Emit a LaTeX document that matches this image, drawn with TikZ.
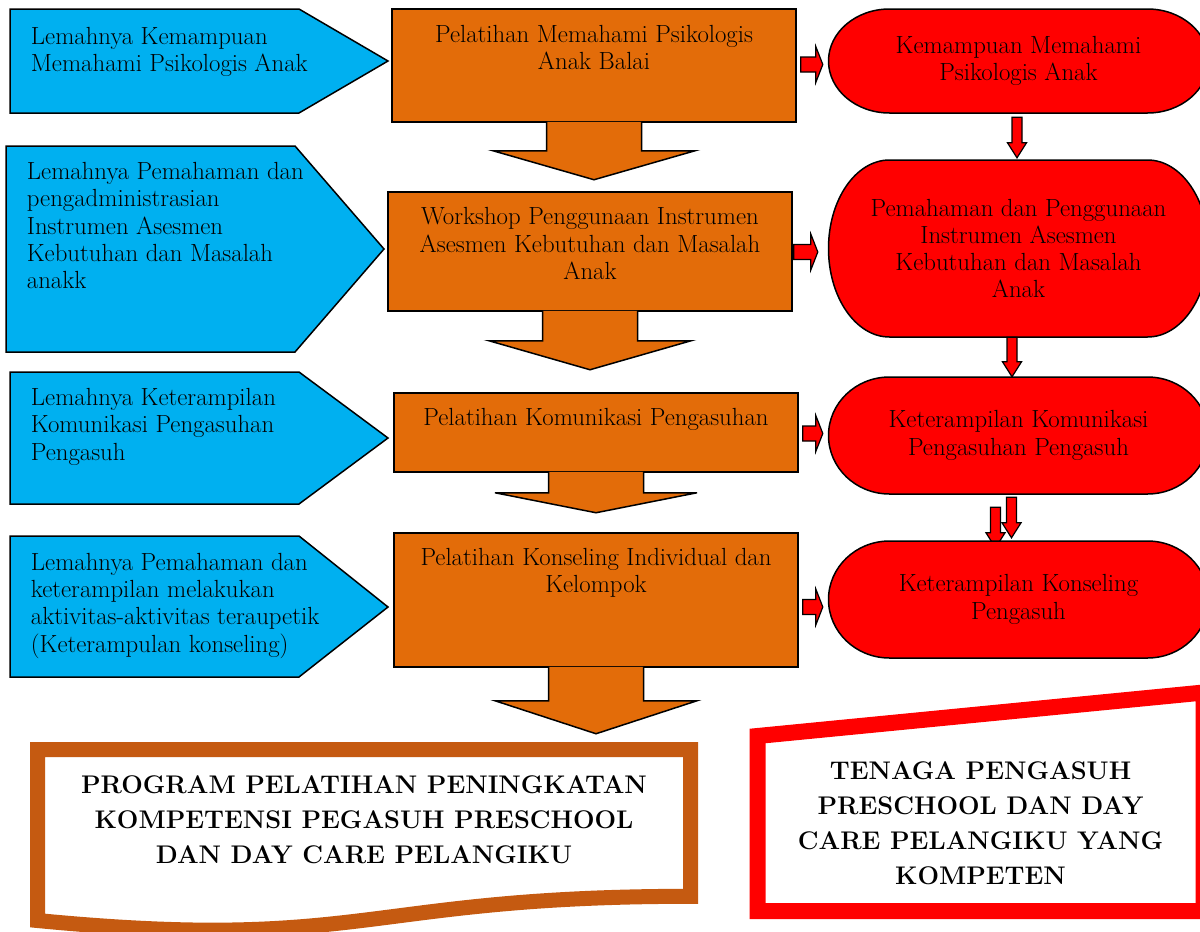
\documentclass[tikz,border=0pt]{standalone}
\usepackage{fontspec}
\usepackage{tikz}
\usetikzlibrary{
	positioning,
	calc,
	backgrounds
}

\definecolor{langit}{HTML}{00B0F0}
\definecolor{jingga}{HTML}{E36C09}
\definecolor{bata}{HTML}{C55A11}

\tikzset{
	lemah/.style={draw=black,line width=1.5pt,fill=langit},
	latih/.style={draw=black,line width=1.5pt,fill=jingga,inner sep=0pt,minimum width=404},
	hasil/.style={draw=black,line width=1.5pt,fill=red},
	panah/.style={draw=black,line width=1.2pt,fill=red},
	teks/.style={inner sep=0pt,font=\fontsize{24.8}{27.3}\selectfont},
	judul/.style={inner sep=0pt,align=center,font=\bfseries\fontsize{25.5}{35}\selectfont}
}

% block arrows in red
\newcommand{\panahkanan}[2]{%
	\draw[panah] let \p1=(#1), \p2=(#2) in
		(\x1,{\y1+7.5pt}) -- ({\x2-7pt},{\y1+7.5pt}) -- ({\x2-7pt},{\y1+18pt}) -- (\x2,\y1)
		-- ({\x2-7pt},{\y1-18pt}) -- ({\x2-7pt},{\y1-7.5pt}) -- (\x1,{\y1-7.5pt}) -- cycle;}
\newcommand{\panahturun}[2]{%
	\draw[panah] let \p1=(#1), \p2=(#2) in
		({\x1-5pt},\y1) -- ({\x1-5pt},{\y2+15pt}) -- ({\x1-9.5pt},{\y2+15pt}) -- (\x1,\y2)
		-- ({\x1+9.5pt},{\y2+15pt}) -- ({\x1+5pt},{\y2+15pt}) -- ({\x1+5pt},\y1) -- cycle;}

\begin{document}
\begin{tikzpicture}[x=1pt,y=-1pt]
	\useasboundingbox (0,0) rectangle (1200,932);

	% problems
	\draw[lemah] (10,9) -- (299,9) -- (388,61) -- (299,113) -- (10,113) -- cycle;
	\draw[lemah] (6,146) -- (295,146) -- (384,249) -- (295,352) -- (6,352) -- cycle;
	\draw[lemah] (10,372) -- (299,372) -- (388,438) -- (299,504) -- (10,504) -- cycle;
	\draw[lemah] (10,536) -- (299,536) -- (388,607) -- (299,677) -- (10,677) -- cycle;
	\node[teks,align=left,anchor=north west] (k1) at (30.7,26.7) {Lemahnya Kemampuan\\Memahami Psikologis Anak};
	\node[teks,align=left,anchor=north west] (k2) at (26.7,162) {Lemahnya Pemahaman dan\\pengadministrasian\\Instrumen Asesmen\\Kebutuhan dan Masalah\\anakk};
	\node[teks,align=left,anchor=north west] (k3) at (30.7,388) {Lemahnya Keterampilan\\Komunikasi Pengasuhan\\Pengasuh};
	\node[teks,align=left,anchor=north west] (k4) at (30.7,552.7) {Lemahnya Pemahaman dan\\keterampilan melakukan\\aktivitas-aktivitas teraupetik\\(Keterampulan konseling)};

	% trainings
	\node[latih,minimum height=113] (p1) at (594,65.5) {};
	\node[latih,minimum height=119] (p2) at (590,251.5) {};
	\node[latih,minimum height=79]  (p3) at (596,432.5) {};
	\node[latih,minimum height=134] (p4) at (596,600) {};
	\foreach \i/\s/\t in {1/28/57,2/29/58,3/20/40,4/33/66}
		\draw[latih] let \p1=(p\i.south) in
			({\x1-47.5pt},{\y1+1pt}) -- ({\x1-47.5pt},{\y1-\s*1pt}) -- ({\x1-101pt},{\y1-\s*1pt})
			-- (\x1,{\y1-\t*1pt}) -- ({\x1+101pt},{\y1-\s*1pt}) -- ({\x1+47.5pt},{\y1-\s*1pt})
			-- ({\x1+47.5pt},{\y1+1pt});
	\node[teks,align=center,below=17pt of p1.north] (t1) {Pelatihan Memahami Psikologis\\Anak Balai};
	\node[teks,align=center,below=16.3pt of p2.north] (t2) {Workshop Penggunaan Instrumen\\Asesmen Kebutuhan dan Masalah\\Anak};
	\node[teks,align=center,below=16.3pt of p3.north] (t3) {Pelatihan Komunikasi Pengasuhan};
	\node[teks,align=center,below=16pt of p4.north] (t4) {Pelatihan Konseling Individual dan\\Kelompok};

	% results
	\foreach \cy/\hh in {61/52,248.5/88.5,435.5/58.5,599.5/58.5}
		\draw[hasil] (889.5,{\cy-\hh}) -- (1147.5,{\cy-\hh})
			arc[start angle=90,end angle=-90,x radius=61pt,y radius={\hh*1pt}]
			-- (889.5,{\cy+\hh})
			arc[start angle=270,end angle=90,x radius=61pt,y radius={\hh*1pt}] -- cycle;
	\node[teks,align=center,minimum width=381,minimum height=104] (h1) at (1018.5,61) {Kemampuan Memahami\\Psikologis Anak};
	\node[teks,align=center,minimum width=381,minimum height=177] (h2) at (1018.5,248.5) {Pemahaman dan Penggunaan\\Instrumen Asesmen\\Kebutuhan dan Masalah\\Anak};
	\node[teks,align=center,minimum width=381,minimum height=117] (h3) at (1018.5,435.5) {Keterampilan Komunikasi\\Pengasuhan Pengasuh};
	\node[teks,align=center,minimum width=381,minimum height=117] (h4) at (1018.5,599.5) {Keterampilan Konseling\\Pengasuh};

	\panahkanan{[shift={(4,-1)}]p1.east}{[xshift=-5]h1.west}
	\panahkanan{[shift={(1,0.5)}]p2.east}{[xshift=-10]h2.west}
	\panahkanan{[shift={(4,1)}]p3.east}{[xshift=-5]h3.west}
	\panahkanan{[shift={(4,7)}]p4.east}{[xshift=-5]h4.west}

	\panahturun{[shift={(-1.5,4)}]h1.south}{[yshift=2pt]h2.north}
	\panahturun{[shift={(-6.5,0)}]h2.south}{h3.north}
	\panahturun{[shift={(-7,3)}]h3.south}{[yshift=3pt]h4.north}
	\begin{scope}[on background layer]
		\panahturun{[shift={(-23,13)}]h3.south}{[yshift=-7pt]h4.north}
	\end{scope}

	% outcome frames
	\draw[line width=15pt,draw=bata,fill=white] (37.5,749.5) -- (690.5,749.5) -- (690.5,896.3)
		.. controls (364,896.3) and (364,952) .. (37.5,920.5) -- cycle;
	\node[judul,anchor=north] (program) at (364,775.5) {PROGRAM PELATIHAN PENINGKATAN\\KOMPETENSI PEGASUH PRESCHOOL\\DAN DAY CARE PELANGIKU};

	\draw[line width=16pt,draw=red] (757.5,736) -- (1203.5,692.5) -- (1203.5,911) -- (757.5,911) -- cycle;
	\node[judul,anchor=north] (tenaga) at (980.5,761) {TENAGA PENGASUH\\PRESCHOOL DAN DAY\\CARE PELANGIKU YANG\\KOMPETEN};
\end{tikzpicture}
\end{document}
